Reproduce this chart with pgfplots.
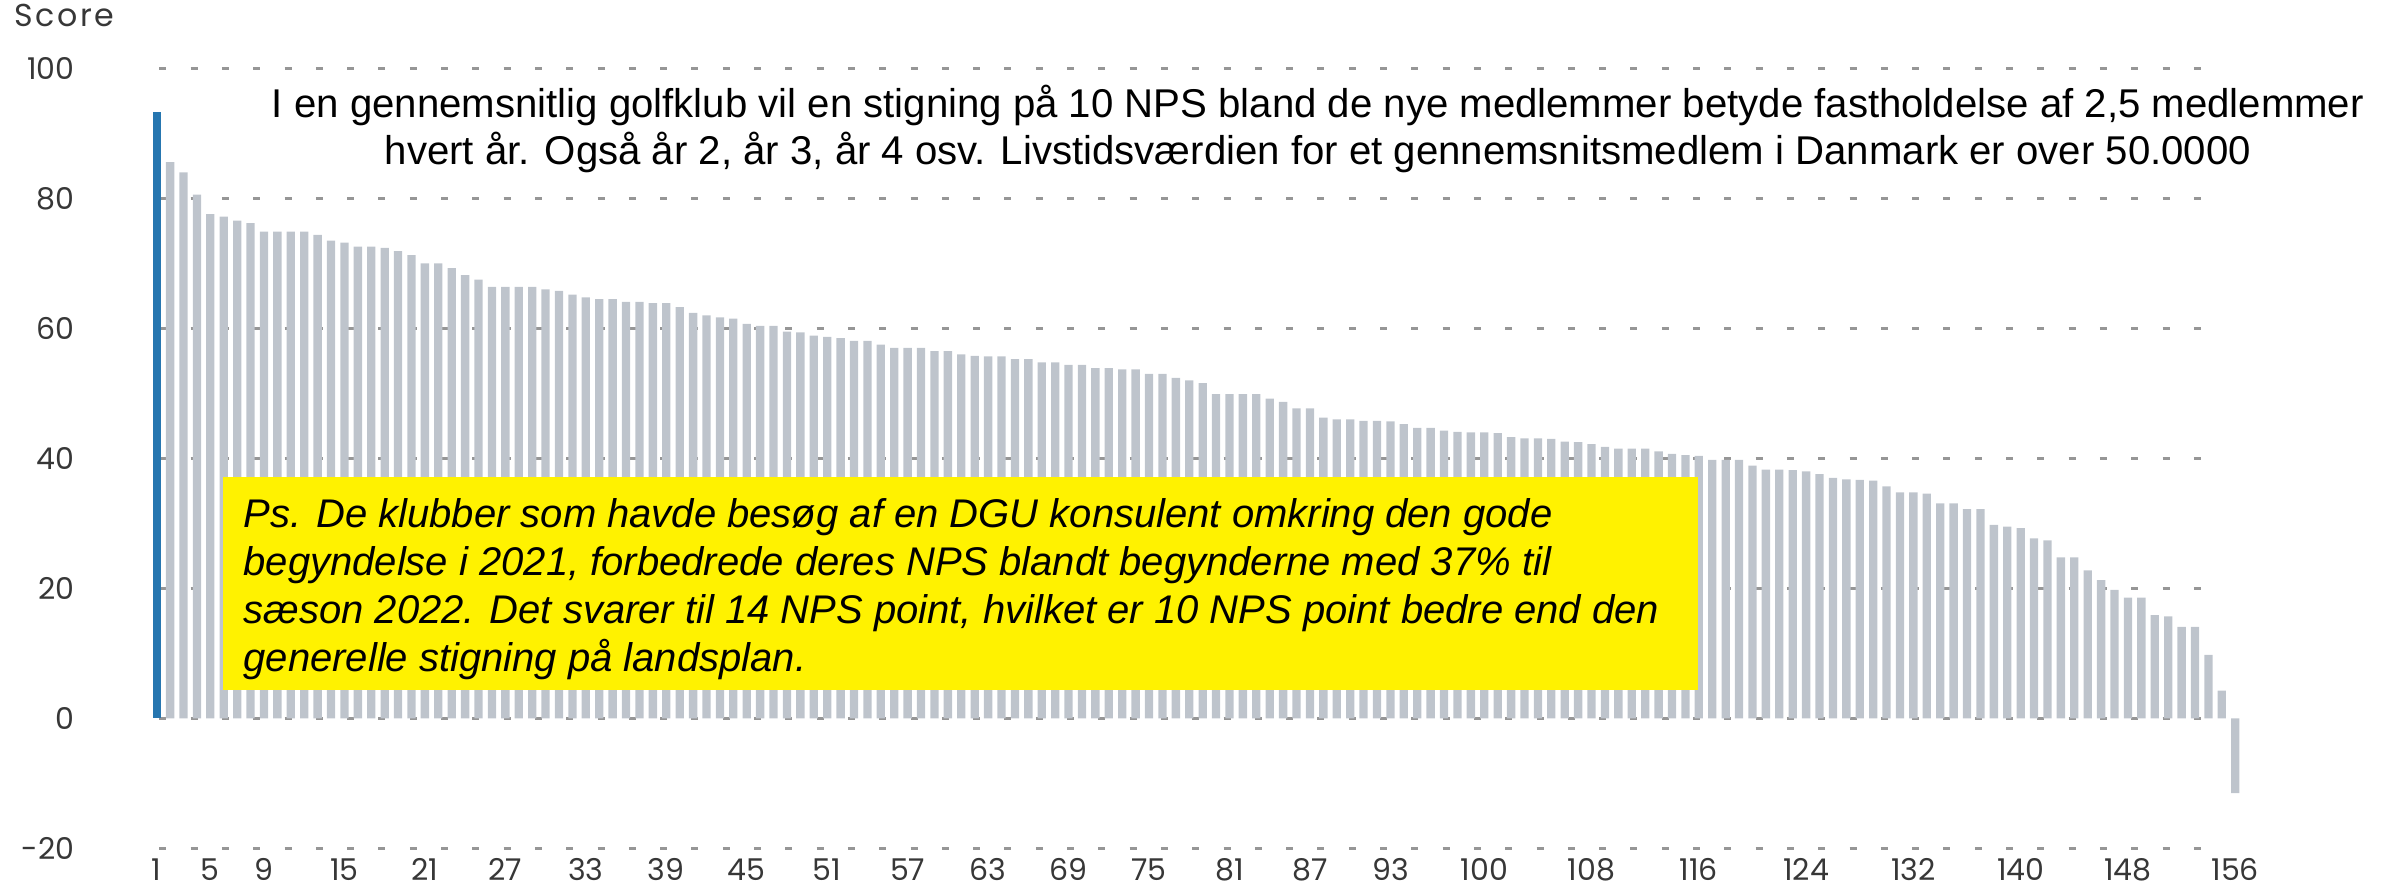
\documentclass[border=0pt]{standalone}
\usepackage{fontspec}
\setmainfont{Liberation Sans}
\newfontfamily\tickfont{Poppins}
\newfontfamily\scorefont{Poppins}[LetterSpace=8]
\usepackage{pgfplots}
\pgfplotsset{compat=1.18}
\definecolor{barblue}{RGB}{38,118,176}
\definecolor{bargray}{RGB}{190,196,204}
\definecolor{gridgray}{RGB}{150,150,150}
\definecolor{ticktext}{RGB}{55,55,55}
\begin{document}
\begin{tikzpicture}[x=0.3pt,y=0.3pt]
\useasboundingbox (0,0) rectangle (2397,886);
\begin{axis}[
  at={(46.81pt,11.25pt)}, anchor=south west,
  scale only axis, width=625.77pt, height=234pt,
  xmin=0.95, xmax=156.5, ymin=-20, ymax=100,
  clip=false,
  axis line style={draw=none},
  major tick length=0pt,
  ytick={-20,0,20,40,60,80,100},
  xtick={1,5,9,15,21,27,33,39,45,51,57,63,69,75,81,87,93,100,108,116,124,132,140,148,156},
  /pgf/number format/assume math mode=true,
  every tick label/.append style={font=\tickfont\fontsize{9}{11}\selectfont, text=ticktext, inner sep=0pt},
  yticklabel style={anchor=east, xshift=-24.3pt},
  xticklabel style={anchor=base, yshift=-9.6pt},
  ybar, bar width=0.62, bar shift=0pt,
]
\pgfplotsinvokeforeach{-20,0,20,40,60,80,100}{
  \draw[gridgray, line width=0.9pt, dash pattern=on 2.1pt off 7.29pt, dash phase=-1pt]
    (axis cs:0.95,#1) -- (axis cs:154.6,#1);
}
\addplot[fill=barblue, draw=none] coordinates {(1,93.3)};
\addplot[fill=bargray, draw=none] coordinates {
(2,85.6)(3,84.0)(4,80.6)(5,77.6)(6,77.2)(7,76.6)(8,76.2)(9,74.9)(10,74.9)
(11,74.9)(12,74.9)(13,74.4)(14,73.5)(15,73.2)(16,72.6)(17,72.6)(18,72.4)(19,71.9)(20,71.3)
(21,70.0)(22,70.0)(23,69.3)(24,68.2)(25,67.5)(26,66.4)(27,66.4)(28,66.4)(29,66.4)(30,66.0)
(31,65.8)(32,65.2)(33,64.8)(34,64.5)(35,64.5)(36,64.1)(37,64.1)(38,63.9)(39,63.9)(40,63.3)
(41,62.4)(42,62.0)(43,61.7)(44,61.5)(45,60.7)(46,60.4)(47,60.4)(48,59.5)(49,59.4)(50,58.9)
(51,58.7)(52,58.5)(53,58.1)(54,58.1)(55,57.5)(56,57.0)(57,57.0)(58,57.0)(59,56.5)(60,56.5)
(61,56.0)(62,55.8)(63,55.7)(64,55.7)(65,55.3)(66,55.3)(67,54.8)(68,54.8)(69,54.4)(70,54.4)
(71,53.9)(72,53.9)(73,53.7)(74,53.7)(75,53.0)(76,53.0)(77,52.4)(78,52.0)(79,51.6)(80,49.9)
(81,49.9)(82,49.9)(83,49.9)(84,49.2)(85,48.7)(86,47.7)(87,47.7)(88,46.3)(89,46.0)(90,46.0)
(91,45.8)(92,45.8)(93,45.7)(94,45.3)(95,44.7)(96,44.7)(97,44.3)(98,44.1)(99,44.0)(100,44.0)
(101,43.9)(102,43.3)(103,43.1)(104,43.1)(105,43.0)(106,42.6)(107,42.5)(108,42.2)(109,41.8)(110,41.5)
(111,41.5)(112,41.5)(113,41.1)(114,40.7)(115,40.5)(116,40.4)(117,39.8)(118,39.8)(119,39.8)(120,38.9)
(121,38.3)(122,38.3)(123,38.2)(124,38.0)(125,37.6)(126,37.0)(127,36.8)(128,36.7)(129,36.6)(130,35.7)
(131,34.8)(132,34.8)(133,34.6)(134,33.1)(135,33.1)(136,32.2)(137,32.2)(138,29.8)(139,29.5)(140,29.3)
(141,27.7)(142,27.4)(143,24.8)(144,24.8)(145,22.8)(146,21.3)(147,19.8)(148,18.6)(149,18.6)(150,15.9)
(151,15.7)(152,14.1)(153,14.1)(154,9.8)(155,4.3)(156,-11.5)
};
\end{axis}
\node[anchor=base west, inner sep=0pt, font=\scorefont\fontsize{9.5}{11}\selectfont, text=ticktext] at (14,859) {Score};
\node[anchor=base, inner sep=0pt, font=\fontsize{12.05}{14}\selectfont] at (1318,768) {I en gennemsnitlig golfklub vil en stigning på 10 NPS bland de nye medlemmer betyde fastholdelse af 2,5 medlemmer};
\node[anchor=base, inner sep=0pt, font=\fontsize{12.05}{14}\selectfont] at (1318,721) {hvert år. Også år 2, år 3, år 4 osv. Livstidsværdien for et gennemsnitsmedlem i Danmark er over 50.0000};
\fill[yellow] (223,196) rectangle (1698,409);
\begin{scope}[every node/.style={anchor=base west, inner sep=0pt, font=\itshape\fontsize{12.0}{15}\selectfont}]
\node at (243,358) {Ps. De klubber som havde besøg af en DGU konsulent omkring den gode};
\node at (243,310) {begyndelse i 2021, forbedrede deres NPS blandt begynderne med 37\% til};
\node at (243,262) {sæson 2022. Det svarer til 14 NPS point, hvilket er 10 NPS point bedre end den};
\node at (243,214) {generelle stigning på landsplan.};
\end{scope}
\end{tikzpicture}
\end{document}
